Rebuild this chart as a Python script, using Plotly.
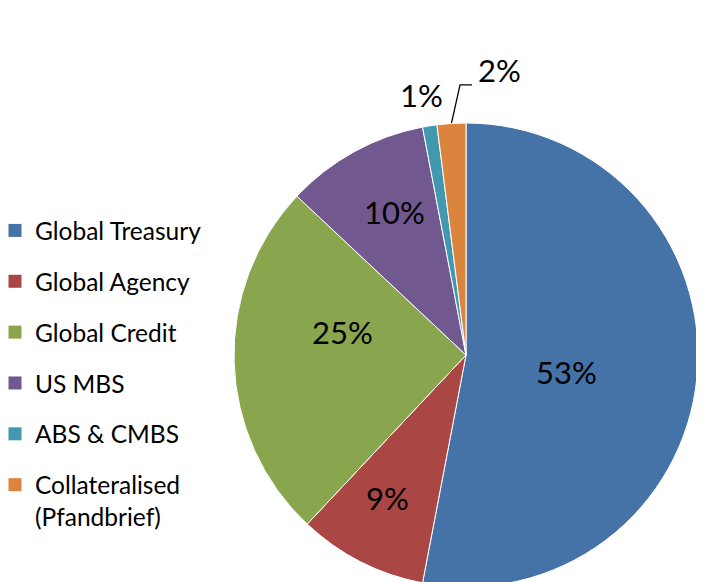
import math
import plotly.graph_objects as go

categories = ["Global Treasury", "Global Agency", "Global Credit", "US MBS",
              "ABS & CMBS", "Collateralised<br>(Pfandbrief)"]
values = [53, 9, 25, 10, 1, 2]
colors = ["#4572A7", "#AA4643", "#89A54E", "#71588F", "#4198AF", "#DB843D"]

# label placement style: (fraction of radius, angular nudge in degrees);
# None -> label drawn outside with an elbow leader line
label_place = [(0.44, 5.9), (0.716, 1.2), (0.54, 11.0), (0.677, 1.9),
               (1.123, -0.8), None]

W, H = 704, 582
FONT = "Lato, 'Open Sans', sans-serif"
PCT_SIZE = 31
TEXT_DY = -3  # visual centring correction for the label font

# pie geometry in figure pixels
CX, CY, R = 458, 347, 232
PIE_L, PIE_R, PIE_T, PIE_B = CX - R, CX + R, CY - R, CY + R

fig = go.Figure()
fig.add_trace(go.Pie(
    labels=categories, values=values, sort=False, direction="clockwise",
    rotation=0,
    marker=dict(colors=colors, line=dict(color="white", width=1)),
    textinfo="none",
    domain=dict(x=[PIE_L / W, PIE_R / W], y=[1 - PIE_B / H, 1 - PIE_T / H]),
    showlegend=False, hoverinfo="label+percent",
))

for i, (c, col) in enumerate(zip(categories, colors)):
    fig.add_trace(go.Scatter(
        x=[None], y=[None], mode="markers", name=c,
        marker=dict(symbol="square", size=13, color=col),
        legendgroup=f"g{i}", showlegend=True,
    ))

# value labels positioned from slice mid-angles
total = sum(values)
cum = 0
annotations = []
for i, v in enumerate(values):
    mid = (cum + v / 2) / total * 2 * math.pi
    cum += v
    place = label_place[i]
    if place is not None:
        frac, nudge = place
        a = mid + math.radians(nudge)
        rr = frac * R
        annotations.append(dict(
            x=CX + rr * math.sin(a), y=CY - rr * math.cos(a) + TEXT_DY,
            xref="x", yref="y", text=f"{v}%", showarrow=False,
            font=dict(family=FONT, size=PCT_SIZE, color="#000000"),
            xanchor="center", yanchor="middle"))
    else:
        ex, ey = CX + R * math.sin(mid), CY - R * math.cos(mid)
        fig.add_trace(go.Scatter(
            x=[ex, ex + 8.6, ex + 20.6], y=[ey, ey - 38.5, ey - 38.5],
            mode="lines", line=dict(color="#000000", width=1.3),
            showlegend=False, hoverinfo="skip"))
        annotations.append(dict(
            x=ex + 24.5, y=ey - 50.5 + TEXT_DY, xref="x", yref="y",
            text=f"{v}%", showarrow=False,
            font=dict(family=FONT, size=PCT_SIZE, color="#000000"),
            xanchor="left", yanchor="middle"))

fig.update_layout(
    width=W, height=H,
    margin=dict(l=0, r=0, t=0, b=0, pad=0, autoexpand=False),
    paper_bgcolor="white", plot_bgcolor="rgba(0,0,0,0)",
    xaxis=dict(visible=False, range=[0, W], fixedrange=True),
    yaxis=dict(visible=False, range=[H, 0], fixedrange=True),
    legend=dict(x=-13 / W, xanchor="left", y=1 - 200 / H, yanchor="top",
                font=dict(family=FONT, size=24.5, color="#000000"),
                tracegroupgap=16, valign="top", bgcolor="rgba(0,0,0,0)"),
    annotations=annotations,
    font=dict(family=FONT),
)

fig.write_html("out.html")
